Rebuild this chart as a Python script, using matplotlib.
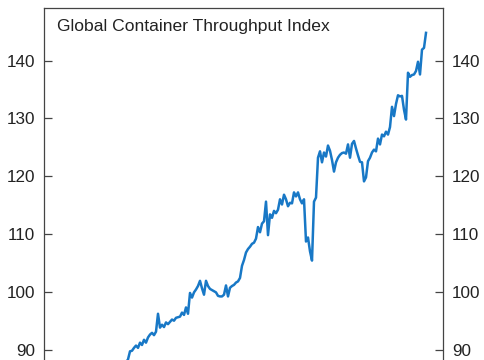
import numpy as np
import matplotlib as mpl

mpl.use('Agg')
import matplotlib.pyplot as plt

plt.rcParams['font.family'] = ['Liberation Sans', 'DejaVu Sans']

# index values, one point per period
throughput = [
    86.5, 87.0, 87.3, 87.8, 88.3, 89.7, 89.8, 90.3, 90.7, 90.3,
    91.2, 90.8, 91.7, 91.2, 92.1, 92.6, 92.9, 92.5, 93.1, 96.2,
    93.8, 94.3, 93.9, 94.7, 94.4, 94.8, 95.2, 95.0, 95.5, 95.6,
    95.7, 96.4, 96.0, 97.3, 96.2, 99.8, 99.0, 99.9, 100.4, 101.0,
    101.9, 100.6, 99.5, 101.9, 101.0, 100.5, 100.3, 100.1, 99.9, 99.3,
    99.2, 99.2, 99.5, 101.1, 99.2, 100.7, 101.0, 101.2, 101.6, 101.8,
    102.4, 104.5, 105.5, 106.8, 107.4, 107.8, 108.3, 108.5, 109.2, 111.2,
    110.3, 111.8, 112.2, 115.6, 109.8, 113.4, 112.8, 114.0, 113.6, 114.2,
    116.0, 115.1, 116.8, 116.0, 114.8, 115.4, 115.3, 117.2, 116.5, 117.2,
    116.0, 115.3, 116.0, 108.7, 109.4, 107.0, 105.4, 115.6, 116.3, 123.2,
    124.3, 122.4, 124.1, 123.4, 125.3, 124.4, 122.8, 120.8, 122.4, 123.2,
    123.7, 124.0, 124.1, 123.9, 125.5, 123.2, 125.6, 126.1, 124.8, 123.6,
    122.5, 122.4, 119.1, 119.8, 122.6, 123.2, 124.1, 124.6, 124.3, 126.5,
    125.5, 127.2, 126.9, 127.7, 127.2, 128.5, 132.0, 130.4, 132.5, 134.0,
    133.8, 133.9, 131.5, 129.8, 137.9, 137.2, 137.5, 137.6, 138.2, 139.8,
    137.6, 141.9, 142.2, 144.8,
]
period = np.arange(len(throughput))
yticks = [90, 100, 110, 120, 130, 140]
title = "Global Container Throughput Index"

W, H = 485, 360
fig = plt.figure(figsize=(W / 100, H / 100), dpi=100)

# axes runs past the bottom of the picture (the reference is cropped)
ymin, ymax = 60, 149.1
px_per_unit = 5.78
ax_h = (ymax - ymin) * px_per_unit
left_px, right_px, top_px = 44, 443, 8
ax = fig.add_axes([left_px / W, (H - top_px - ax_h) / H,
                   (right_px - left_px) / W, ax_h / H])

line_color = '#1878c6'
ax.plot(period, throughput, color=line_color, lw=1.8, solid_joinstyle='round')

ax.set_xlim(-38, 161.5)
ax.set_ylim(ymin, ymax)
ax.set_xticks([])
ax.set_yticks(yticks)
ax.tick_params(axis='y', which='both', direction='in', length=5.5, width=0.9,
               color='#444444', labelsize=12.3, labelcolor='#222222', pad=6.5,
               left=True, right=True, labelleft=True, labelright=True)
for s in ax.spines.values():
    s.set_color('#444444')
    s.set_linewidth(0.9)

ax.text(13 / (right_px - left_px), 1 - (31.5 - top_px) / ax_h, title,
        transform=ax.transAxes, ha='left', va='baseline',
        fontsize=12.6, color='#222222')

fig.savefig('out.png', dpi=100)
